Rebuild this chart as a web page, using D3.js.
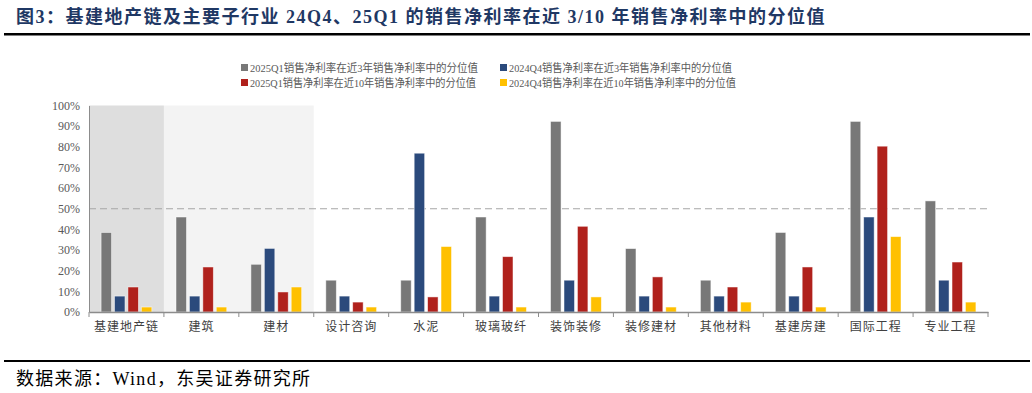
<!DOCTYPE html>
<html><head><meta charset="utf-8">
<script src="https://cdn.jsdelivr.net/npm/d3@7/dist/d3.min.js"></script>
<style>
body{margin:0;background:#fff;}
svg{display:block;}
</style></head>
<body>
<svg id="c" width="1032" height="393"></svg>
<script>
const categories = ["基建地产链","建筑","建材","设计咨询","水泥","玻璃玻纤","装饰装修","装修建材","其他材料","基建房建","国际工程","专业工程"];
const seriesNames = ["2025Q1销售净利率在近3年销售净利率中的分位值","2024Q4销售净利率在近3年销售净利率中的分位值","2025Q1销售净利率在近10年销售净利率中的分位值","2024Q4销售净利率在近10年销售净利率中的分位值"];
const q1_3y  = [38.5,46.0,23.1,15.4,15.4,46.0,92.3,30.7,15.4,38.5,92.3,53.8];
const q4_3y  = [7.7,7.7,30.8,7.7,76.9,7.7,15.4,7.7,7.7,7.7,46.0,15.4];
const q1_10y = [12.1,21.8,9.7,4.8,7.3,26.8,41.5,17.0,12.1,21.8,80.3,24.2];
const q4_10y = [2.4,2.4,12.1,2.4,31.7,2.4,7.3,2.4,4.8,2.4,36.5,4.8];
const yTicks = [0,10,20,30,40,50,60,70,80,90,100];
const refValue = 50;
const colors = ["#787878","#2b4a7c","#b0211c","#ffc000"];

const series = [q1_3y,q4_3y,q1_10y,q4_10y];
const svg = d3.select("#c");
const serif = "'Liberation Serif','DejaVu Serif',serif";
const cjk = "'Liberation Serif','Noto Sans CJK SC',serif";

const x0 = d3.scaleBand().domain(categories).range([89,988]).paddingInner(0).paddingOuter(0);
const x1 = d3.scaleBand().domain(d3.range(4)).range([0,x0.bandwidth()]).paddingInner(0.22).paddingOuter(0.9);
const y = d3.scaleLinear().domain([0,100]).range([312,105.5]);

// title
svg.append("text").attr("x",16).attr("y",23).attr("font-family",cjk).attr("font-weight","bold")
  .attr("font-size",18).attr("letter-spacing",1.5).attr("fill","#1f3864")
  .text("图3：基建地产链及主要子行业 24Q4、25Q1 的销售净利率在近 3/10 年销售净利率中的分位值");
svg.append("rect").attr("x",4).attr("y",33).attr("width",1026).attr("height",2.5).attr("fill","#000");

// shading
svg.append("rect").attr("x",x0(categories[0])).attr("y",y(100)).attr("width",x0.bandwidth()).attr("height",y(0)-y(100)).attr("fill","#dedede");
svg.append("rect").attr("x",x0(categories[1])).attr("y",y(100)).attr("width",x0.bandwidth()*2).attr("height",y(0)-y(100)).attr("fill","#f3f3f3");

// dashed ref
svg.append("line").attr("x1",89).attr("x2",988).attr("y1",y(refValue)).attr("y2",y(refValue))
  .attr("stroke","#a6a6a6").attr("stroke-width",1.2).attr("stroke-dasharray","7,4");

// bars
series.forEach((vals,si)=>{
  svg.append("g").selectAll("rect").data(vals).join("rect")
    .attr("x",(d,i)=>x0(categories[i])+x1(si))
    .attr("y",d=>y(d))
    .attr("width",x1.bandwidth())
    .attr("height",d=>y(0)-y(d))
    .attr("fill",colors[si])
    .attr("stroke","rgba(255,255,255,0.6)").attr("stroke-width",0.8);
});

// y axis
const ya = svg.append("g").attr("transform","translate(89,0)")
  .call(d3.axisLeft(y).tickValues(yTicks).tickFormat(d=>d+"%").tickSize(0).tickPadding(9));
ya.select(".domain").attr("stroke","#8c8c8c");
ya.selectAll("text").attr("font-family",serif).attr("font-size",12).attr("fill","#595959");

// x axis
const xa = svg.append("g").attr("transform","translate(0,312)")
  .call(d3.axisBottom(x0).tickSize(0).tickPadding(9));
xa.select(".domain").attr("stroke","#8c8c8c").attr("stroke-width",1.5);
xa.selectAll("text").attr("font-family","'Noto Sans CJK SC',sans-serif").attr("font-size",12).attr("fill","#404040").attr("dy","0.8em")
  .attr("letter-spacing",1);
xa.append("g").selectAll("line").data(d3.range(13)).join("line")
  .attr("x1",i=>89+i*x0.bandwidth()).attr("x2",i=>89+i*x0.bandwidth())
  .attr("y1",0).attr("y2",5).attr("stroke","#8c8c8c");

// legend
const legPos = [[241,68],[500,68],[241,83],[500,83]];
const legLen = [228,223,226,227];
const leg = svg.append("g");
seriesNames.forEach((n,i)=>{
  const [lx,ly]=legPos[i];
  leg.append("rect").attr("x",lx).attr("y",ly-4).attr("width",7).attr("height",7).attr("fill",colors[i]);
  leg.append("text").attr("x",lx+9).attr("y",ly+4).attr("font-family",cjk).attr("font-size",11)
    .attr("textLength",legLen[i]).attr("lengthAdjust","spacingAndGlyphs")
    .attr("fill","#595959").text(n);
});

// footer
svg.append("rect").attr("x",4).attr("y",360).attr("width",1026).attr("height",2).attr("fill","#000");
svg.append("text").attr("x",16).attr("y",385).attr("font-family",cjk).attr("font-size",18).attr("fill","#000")
  .attr("letter-spacing",1.3).text("数据来源：Wind，东吴证券研究所");
</script>
</body></html>
